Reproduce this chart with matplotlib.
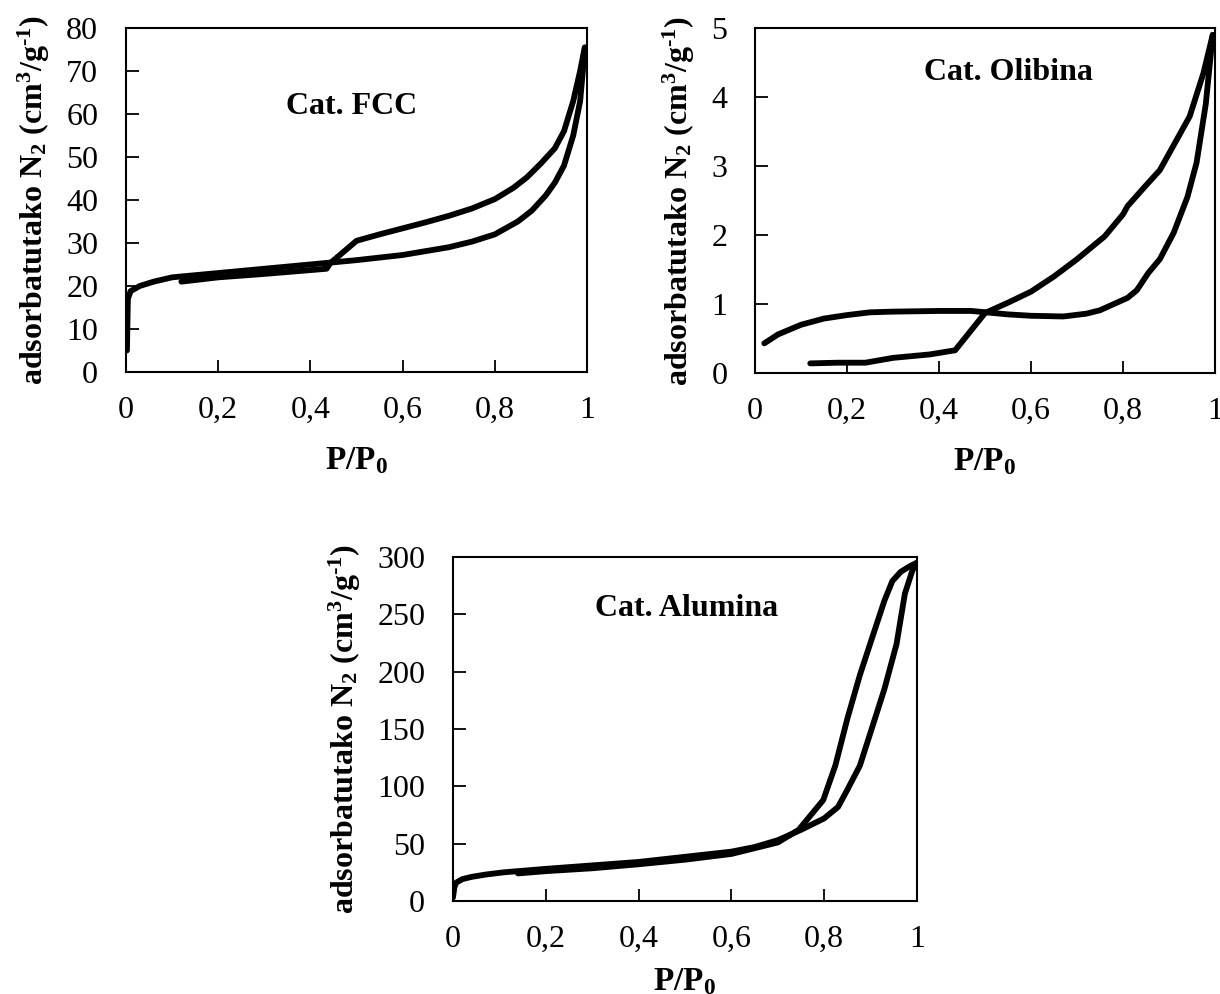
import matplotlib
matplotlib.use("Agg")
import matplotlib.pyplot as plt

# ─── Font setup (Times-like) ─────────────────────────────────────────────────
plt.rcParams["font.family"] = ["Liberation Serif", "DejaVu Serif"]
plt.rcParams["mathtext.fontset"] = "custom"
plt.rcParams["mathtext.rm"] = "Liberation Serif"
plt.rcParams["mathtext.bf"] = "Liberation Serif:bold"
plt.rcParams["mathtext.default"] = "bf"

# ─── Data: N2 isotherms ──────────────────────────────────────────────────────
fcc_ads_x = [0.002, 0.004, 0.01, 0.03, 0.06, 0.1, 0.2, 0.3, 0.4, 0.5, 0.6, 0.7,
             0.75, 0.8, 0.85, 0.88, 0.91, 0.93, 0.95, 0.97, 0.985, 0.995]
fcc_ads_y = [5, 17, 18.8, 20, 21, 22, 23, 24, 25, 26, 27.2, 29,
             30.3, 32, 35, 37.5, 41, 44, 48, 55, 63, 75]
fcc_des_x = [0.995, 0.985, 0.97, 0.95, 0.93, 0.9, 0.87, 0.84, 0.8, 0.75, 0.7,
             0.65, 0.6, 0.55, 0.5, 0.443, 0.435, 0.3, 0.2, 0.12]
fcc_des_y = [75.5, 70, 63, 56, 52, 48.5, 45.3, 42.8, 40.2, 38, 36.3,
             34.8, 33.4, 32, 30.5, 25.3, 24, 22.8, 22, 21]

oli_a_x = [0.02, 0.05, 0.1, 0.15, 0.2, 0.25, 0.3, 0.4, 0.47, 0.55, 0.6, 0.67,
           0.72, 0.75, 0.78, 0.81, 0.83, 0.855, 0.88, 0.91, 0.94, 0.96, 0.98, 0.995]
oli_a_y = [0.43, 0.56, 0.7, 0.79, 0.84, 0.88, 0.89, 0.9, 0.9, 0.85, 0.83, 0.82,
           0.86, 0.91, 1.0, 1.09, 1.2, 1.45, 1.65, 2.03, 2.55, 3.05, 3.9, 4.9]
oli_b_x = [0.12, 0.18, 0.24, 0.3, 0.38, 0.435, 0.5, 0.55, 0.6, 0.65, 0.7, 0.76,
           0.8, 0.81, 0.85, 0.88, 0.91, 0.945, 0.975, 0.995]
oli_b_y = [0.14, 0.15, 0.15, 0.22, 0.27, 0.33, 0.87, 1.02, 1.18, 1.4, 1.65, 1.98,
           2.3, 2.42, 2.72, 2.94, 3.3, 3.72, 4.35, 4.9]

alu_ads_x = [0.0, 0.003, 0.007, 0.02, 0.04, 0.07, 0.11, 0.2, 0.3, 0.4, 0.5, 0.6,
             0.65, 0.7, 0.75, 0.8, 0.83, 0.85, 0.877, 0.9, 0.93, 0.956, 0.974, 0.99, 1.0]
alu_ads_y = [3, 12, 16, 19, 21, 23, 25, 28, 31, 34, 38.5, 43,
             47, 53, 62, 72, 82, 97, 118, 147, 185, 224, 268, 288, 295]
alu_des_x = [1.0, 0.985, 0.965, 0.947, 0.93, 0.903, 0.877, 0.85, 0.824, 0.798, 0.745,
             0.7, 0.65, 0.6, 0.5, 0.4, 0.3, 0.2, 0.14]
alu_des_y = [295, 292, 287, 279, 262, 229, 197, 159, 118, 88, 62,
             51, 46, 41, 36, 32, 28.5, 26, 24]

xticks = [0, 0.2, 0.4, 0.6, 0.8, 1]
xtick_labels = ["0", "0,2", "0,4", "0,6", "0,8", "1"]

ylabel = "adsorbatutako N$_2$ (cm$^3$/g$^{\u20101}$)"
xlabel = r"P/P$_0$"

# ─── Figure ──────────────────────────────────────────────────────────────────
fig = plt.figure(figsize=(12.2, 9.94), dpi=100)

panels = [
    # (rect, curves, ylim, yticks, title, title_xy, xlabelpad)
    ([0.1033, 0.6258, 0.3779, 0.3461],
     [(fcc_ads_x, fcc_ads_y), (fcc_des_x, fcc_des_y)],
     (0, 80), range(0, 81, 10), "Cat. FCC", (0.49, 0.773), 15),
    ([0.6189, 0.6247, 0.3770, 0.3471],
     [(oli_a_x, oli_a_y), (oli_b_x, oli_b_y)],
     (0, 5), range(0, 6, 1), "Cat. Olibina", (0.55, 0.87), 15),
    ([0.3713, 0.0936, 0.3803, 0.3461],
     [(alu_ads_x, alu_ads_y), (alu_des_x, alu_des_y)],
     (0, 300), range(0, 301, 50), "Cat. Alumina", (0.504, 0.85), 9),
]

for rect, curves, ylim, yticks, title, txy, xpad in panels:
    ax = fig.add_axes(rect)
    for cx, cy in curves:
        ax.plot(cx, cy, color="black", lw=4.2, solid_capstyle="round",
                solid_joinstyle="round")
    ax.set_xlim(0, 1)
    ax.set_ylim(*ylim)
    ax.set_xticks(xticks)
    ax.set_xticklabels(xtick_labels)
    ax.set_yticks(list(yticks))
    ax.tick_params(direction="in", length=9, width=1.3, labelsize=23)
    ax.tick_params(axis="x", pad=17)
    ax.tick_params(axis="y", pad=20)
    for sp in ax.spines.values():
        sp.set_linewidth(1.5)
    ax.set_xlabel(xlabel, fontsize=24, fontweight="bold", labelpad=xpad)
    ax.set_ylabel(ylabel, fontsize=23, fontweight="bold", labelpad=10)
    ax.text(txy[0], txy[1], title, transform=ax.transAxes, ha="center",
            va="center", fontsize=23, fontweight="bold")

plt.savefig("out.png", dpi=100)
plt.close()
